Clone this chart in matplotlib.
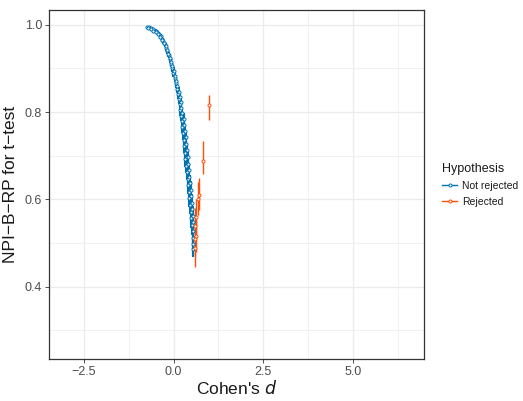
import matplotlib
matplotlib.use("Agg")
import matplotlib.pyplot as plt
from matplotlib.lines import Line2D
from matplotlib.ticker import FixedLocator

plt.rcParams["font.family"] = ["Liberation Sans", "DejaVu Sans"]

# ---- data ----
x_nr = [-0.74, -0.68, -0.62, -0.56, -0.50, -0.45, -0.40, -0.36, -0.32, -0.29,
        -0.25, -0.21, -0.17, -0.13, -0.10, -0.07, -0.04, -0.01, 0.03, 0.06,
        0.09, 0.12, 0.14, 0.17, 0.19, 0.21, 0.23, 0.25, 0.27, 0.28,
        0.30, 0.31, 0.33, 0.35, 0.37, 0.39, 0.41, 0.42, 0.44, 0.46,
        0.48, 0.50, 0.51, 0.53, 0.54, 0.55, 0.55,
        -0.70, -0.64, -0.57, -0.50, -0.43, -0.37, -0.32, -0.27, -0.22, -0.18,
        -0.14, -0.10, -0.06, -0.03, 0.01, 0.04, 0.07, 0.10, 0.14, 0.17,
        0.20, 0.22, 0.25, 0.28, 0.30, 0.32, 0.34, 0.36, 0.38, 0.39,
        0.41, 0.43, 0.44, 0.46, 0.48, 0.50, 0.51, 0.52, 0.53, 0.55]
y_nr = [0.996, 0.994, 0.992, 0.990, 0.987, 0.983, 0.979, 0.974, 0.968, 0.962,
        0.955, 0.947, 0.939, 0.930, 0.921, 0.911, 0.900, 0.889, 0.878, 0.866,
        0.854, 0.842, 0.830, 0.818, 0.805, 0.792, 0.779, 0.765, 0.751, 0.737,
        0.722, 0.707, 0.692, 0.677, 0.662, 0.647, 0.632, 0.617, 0.602, 0.587,
        0.572, 0.557, 0.542, 0.527, 0.512, 0.497, 0.487,
        0.993, 0.990, 0.987, 0.983, 0.978, 0.972, 0.966, 0.959, 0.951, 0.943,
        0.934, 0.925, 0.915, 0.905, 0.894, 0.883, 0.871, 0.859, 0.847, 0.835,
        0.823, 0.810, 0.797, 0.784, 0.770, 0.756, 0.742, 0.727, 0.712, 0.697,
        0.682, 0.667, 0.652, 0.637, 0.622, 0.607, 0.592, 0.577, 0.562, 0.547]
err_nr = [0.002, 0.002, 0.002, 0.003, 0.003, 0.003, 0.004, 0.004, 0.005, 0.005,
          0.006, 0.006, 0.007, 0.007, 0.008, 0.008, 0.009, 0.009, 0.010, 0.010,
          0.011, 0.011, 0.012, 0.012, 0.013, 0.013, 0.014, 0.014, 0.015, 0.015,
          0.016, 0.016, 0.017, 0.017, 0.018, 0.018, 0.019, 0.019, 0.020, 0.020,
          0.021, 0.022, 0.023, 0.024, 0.025, 0.026, 0.020,
          0.002, 0.003, 0.003, 0.003, 0.004, 0.004, 0.005, 0.005, 0.006, 0.006,
          0.007, 0.007, 0.008, 0.008, 0.009, 0.009, 0.010, 0.010, 0.011, 0.011,
          0.012, 0.012, 0.013, 0.013, 0.014, 0.014, 0.015, 0.015, 0.016, 0.016,
          0.017, 0.017, 0.018, 0.018, 0.019, 0.019, 0.020, 0.021, 0.022, 0.023]

x_r = [0.98, 0.81, 0.70, 0.67, 0.64, 0.59, 0.62, 0.60, 0.60]
y_r = [0.816, 0.687, 0.611, 0.600, 0.559, 0.540, 0.517, 0.510, 0.488]
lo_r = [0.782, 0.657, 0.575, 0.565, 0.520, 0.500, 0.480, 0.470, 0.446]
hi_r = [0.839, 0.733, 0.650, 0.640, 0.600, 0.580, 0.555, 0.550, 0.530]

groups = ["Not rejected", "Rejected"]
colors = ["#0072B2", "#FC4E07"]
x_ticks = [-2.5, 0.0, 2.5, 5.0]
x_tick_labels = ["\u22122.5", "0.0", "2.5", "5.0"]
y_ticks = [0.4, 0.6, 0.8, 1.0]
y_tick_labels = ["0.4", "0.6", "0.8", "1.0"]

# ---- figure ----
fig = plt.figure(figsize=(5.23, 4.01), dpi=100)
ax = fig.add_axes([49 / 523, 1 - 359 / 401, 375 / 523, 349 / 401])

ax.set_xlim(-3.47, 6.98)
ax.set_ylim(0.234, 1.034)

ax.xaxis.set_major_locator(FixedLocator(x_ticks))
ax.xaxis.set_minor_locator(FixedLocator([-3.75, -1.25, 1.25, 3.75, 6.25]))
ax.yaxis.set_major_locator(FixedLocator(y_ticks))
ax.yaxis.set_minor_locator(FixedLocator([0.3, 0.5, 0.7, 0.9]))
ax.set_xticklabels(x_tick_labels)
ax.set_yticklabels(y_tick_labels)

ax.grid(True, which="major", color="#EBEBEB", linewidth=0.9)
ax.grid(True, which="minor", color="#EBEBEB", linewidth=0.5)
ax.set_axisbelow(True)
ax.tick_params(which="minor", length=0)
ax.tick_params(which="major", length=3, width=0.6, color="#333333",
               labelsize=9, labelcolor="#4D4D4D", pad=2)
for s in ax.spines.values():
    s.set_color("#333333")
    s.set_linewidth(0.9)

ax.errorbar(x_nr, y_nr, yerr=[err_nr, err_nr], fmt="o", color=colors[0],
            ecolor=colors[0], elinewidth=1.5, capsize=0, markersize=2.2,
            markerfacecolor="white", markeredgecolor=colors[0],
            markeredgewidth=0.7, zorder=3)
ax.errorbar(x_r, y_r,
            yerr=[[y - l for y, l in zip(y_r, lo_r)], [h - y for y, h in zip(y_r, hi_r)]],
            fmt="o", color=colors[1], ecolor=colors[1], elinewidth=1.0,
            capsize=0, markersize=2.2, markerfacecolor="white",
            markeredgecolor=colors[1], markeredgewidth=0.7, zorder=3)

ax.set_xlabel("Cohen's $\\it{d}$", fontsize=12.5, color="#1A1A1A", labelpad=1)
ax.set_ylabel("NPI\u2212B\u2212RP for t\u2212test", fontsize=12.5, color="#1A1A1A")
ax.yaxis.set_label_coords((18 - 49) / 375, 0.5)

handles = [Line2D([0], [0], color=c, marker="o", markersize=2.2,
                  markerfacecolor="white", markeredgecolor=c, linewidth=1.0,
                  markeredgewidth=0.7)
           for c in colors]
leg = ax.legend(handles, groups, title="Hypothesis", loc="center left",
                bbox_to_anchor=(433 / 523, 1 - 185 / 401), bbox_transform=fig.transFigure,
                frameon=False, fontsize=7.5, title_fontsize=9, alignment="left",
                handlelength=1.4, handletextpad=0.5, labelspacing=0.55)
leg.get_title().set_color("#1A1A1A")
for t in leg.get_texts():
    t.set_color("#1A1A1A")

fig.savefig("out.png", dpi=100)
